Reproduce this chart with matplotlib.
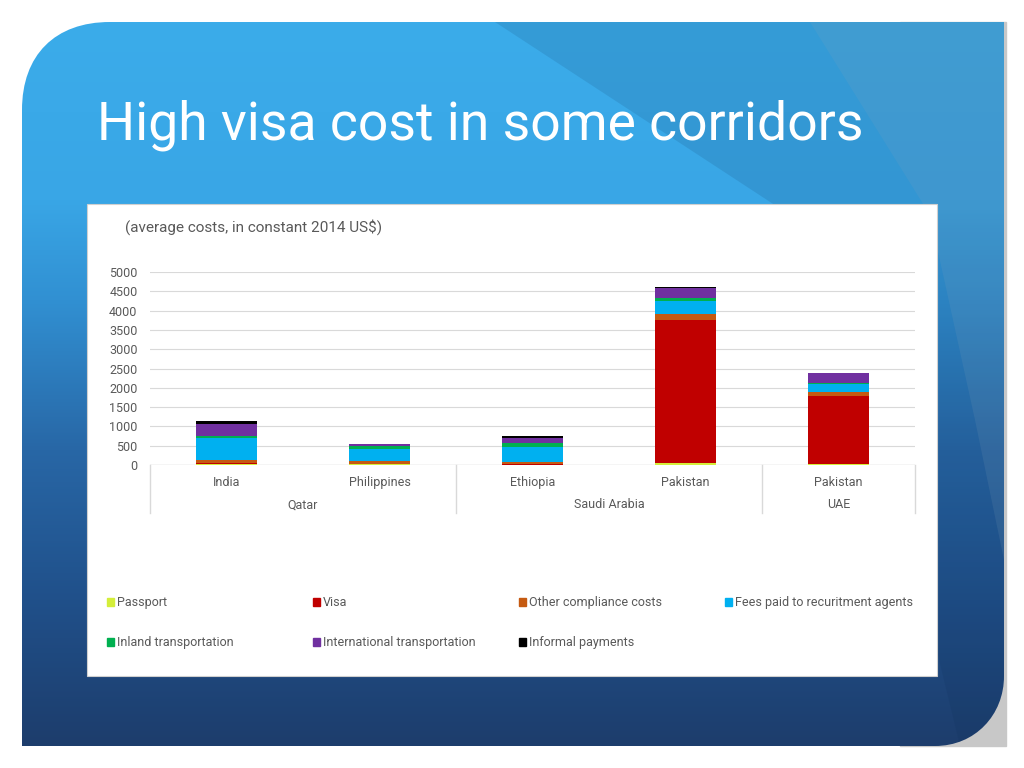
import numpy as np
import matplotlib
matplotlib.use("Agg")
import matplotlib.pyplot as plt
from matplotlib.path import Path
from matplotlib.patches import PathPatch, Rectangle, Polygon
from matplotlib.colors import to_rgb
import matplotlib.transforms as mtransforms

plt.rcParams['font.family'] = ['Roboto', 'DejaVu Sans']

# data
countries = ['India', 'Philippines', 'Ethiopia', 'Pakistan', 'Pakistan']
destinations = ['Qatar', 'Saudi Arabia', 'UAE']
dest_members = [[0, 1], [2, 3], [4]]

series_names = ['Passport', 'Visa', 'Other compliance costs', 'Fees paid to recuritment agents',
                'Inland transportation', 'International transportation', 'Informal payments']
passport = [30, 20, 12, 40, 30]
visa = [10, 14, 14, 3716, 1766]
other_compliance = [90, 70, 44, 150, 104]
agent_fees = [560, 310, 404, 345, 190]
inland = [60, 86, 104, 85, 26]
international = [310, 44, 113, 245, 259]
informal = [88, 0, 60, 20, 0]
series_values = [passport, visa, other_compliance, agent_fees, inland, international, informal]
series_colors = ['#D4EE3A', '#C00000', '#C55A11', '#00B0F0', '#00B050', '#7030A0', '#000000']

yticks = np.arange(0, 5001, 500)
text_grey = '#595959'

fig = plt.figure(figsize=(10.24, 7.68), dpi=100)
fig.patch.set_facecolor('white')

# background slide, pixel coordinates
bg = fig.add_axes([0, 0, 1, 1], zorder=0)
bg.set_xlim(0, 1024)
bg.set_ylim(768, 0)
bg.axis('off')

bg.add_patch(Rectangle((900, 22), 106, 724, color='#C8C8C8', zorder=0))

verts = [(22, 110), (22, 55), (55, 22), (110, 22),
         (1004, 22), (1004, 676), (1004, 715), (975, 746), (935, 746),
         (22, 746), (22, 110)]
codes = [Path.MOVETO, Path.CURVE4, Path.CURVE4, Path.CURVE4,
         Path.LINETO, Path.LINETO, Path.CURVE4, Path.CURVE4, Path.CURVE4,
         Path.LINETO, Path.CLOSEPOLY]
panel = PathPatch(Path(verts, codes), facecolor='none', edgecolor='none', zorder=1)
bg.add_patch(panel)

stops_y = [22, 200, 300, 450, 600, 746]
stops_c = ['#3BACEA', '#39A6E6', '#3190D2', '#2867A6', '#20508A', '#1D3D6C']
ys = np.linspace(22, 746, 400)
rgb = np.array([to_rgb(c) for c in stops_c])
grad = np.stack([np.interp(ys, stops_y, rgb[:, k]) for k in range(3)], axis=-1)[:, None, :]
im = bg.imshow(grad, extent=[22, 1004, 746, 22], aspect='auto', zorder=1, interpolation='bilinear')
im.set_clip_path(panel)

shade = Polygon([(495, 22), (1004, 22), (1004, 746), (960, 746), (905, 520), (790, 215)],
                closed=True, facecolor='#0A2A50', alpha=0.12, edgecolor='none', zorder=2)
bg.add_patch(shade)
shade.set_clip_path(panel)
light = Polygon([(810, 22), (1004, 22), (1004, 560), (975, 420), (930, 215)],
                closed=True, facecolor='#8AA4B8', alpha=0.14, edgecolor='none', zorder=2)
bg.add_patch(light)
light.set_clip_path(panel)

bg.text(97, 125, 'High visa cost in some corridors', color='white', fontsize=38.5,
        va='center', ha='left', zorder=3)

# white chart box
bg.add_patch(Rectangle((87, 204), 850, 472, facecolor='white', edgecolor='#D0D0D0', lw=0.8, zorder=3))
bg.text(125, 227, '(average costs, in constant 2014 US$)', color=text_grey, fontsize=11,
        va='center', ha='left', zorder=4)

# legend
leg_x = [107, 313, 519, 725]
leg_y = [602, 642]
for i, (name, col) in enumerate(zip(series_names, series_colors)):
    lx = leg_x[i % 4]
    ly = leg_y[i // 4]
    bg.add_patch(Rectangle((lx, ly - 4), 7, 8, color=col, zorder=4))
    bg.text(lx + 10, ly + 0.5, name, color=text_grey, fontsize=9, va='center', ha='left', zorder=4)

# chart
ax = fig.add_axes([150 / 1024, (768 - 465) / 768, 765 / 1024, 193 / 768], zorder=2)
ax.set_facecolor('none')
x = np.arange(len(countries))
bottom = np.zeros(len(countries))
for name, vals, col in zip(series_names, series_values, series_colors):
    ax.bar(x, vals, width=0.4, bottom=bottom, color=col, label=name, zorder=3)
    bottom += np.array(vals)

ax.set_xlim(-0.5, len(countries) - 0.5)
ax.set_ylim(0, 5000)
ax.set_yticks(yticks)
ax.grid(axis='y', color='#D9D9D9', lw=0.8, zorder=0)
for s in ax.spines.values():
    s.set_visible(False)
ax.axhline(0, color='#D9D9D9', lw=1, zorder=2)
ax.set_xticks(x, countries)
ax.tick_params(axis='both', length=0, labelsize=9, labelcolor=text_grey)
ax.tick_params(axis='y', pad=9)
ax.tick_params(axis='x', pad=8)

trans = mtransforms.blended_transform_factory(ax.transData, ax.transAxes)
edges = [-0.5]
for members in dest_members:
    edges.append(members[-1] + 0.5)
for e in edges:
    ax.plot([e, e], [0, -0.249], transform=trans, color='#D9D9D9', lw=1, clip_on=False)
for dest, members in zip(destinations, dest_members):
    ax.text(np.mean(members), -0.207, dest, transform=trans, ha='center', va='center',
            fontsize=9, color=text_grey)

fig.savefig('out.png', dpi=100)
